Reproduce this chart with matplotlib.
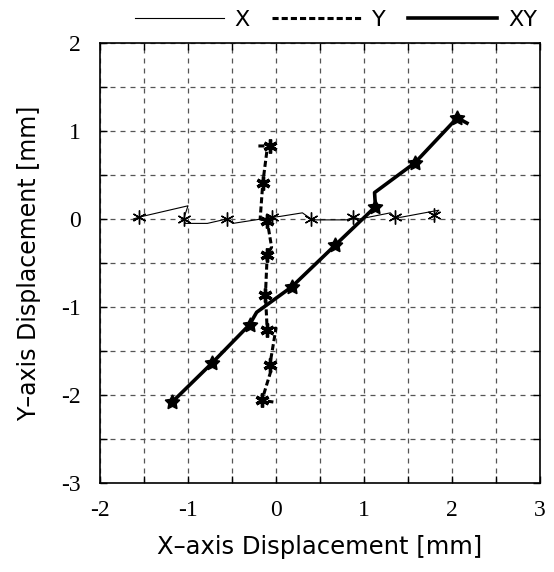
import matplotlib
matplotlib.use("Agg")
import matplotlib.pyplot as plt
from matplotlib.ticker import MultipleLocator
from matplotlib.lines import Line2D

plt.rcParams['axes.unicode_minus'] = False

# X series (thin line) path and hold-point indices
x_x = [-1.62, -1.56, -1.0, -1.05, -1.03, -0.78, -0.56, -0.49, -0.04, 0.05, 0.3, 0.40, 0.45, 0.8, 0.88, 0.95, 1.3, 1.35, 1.42, 1.85, 1.80]
x_y = [0.0, 0.02, 0.15, 0.0, -0.05, -0.05, 0.0, -0.05, 0.02, 0.03, 0.07, 0.0, -0.01, -0.01, 0.02, 0.0, 0.07, 0.02, 0.02, 0.10, 0.05]
x_hold = [1, 3, 6, 8, 11, 14, 17, 20]

# Y series (dashed line)
y_x = [-0.2, -0.07, -0.1, -0.15, -0.18, -0.1, -0.05, -0.1, -0.12, -0.1, 0.0, -0.07, -0.05, -0.16, -0.03]
y_y = [0.83, 0.83, 0.8, 0.41, 0.0, -0.02, -0.32, -0.41, -0.86, -1.26, -1.24, -1.66, -1.7, -2.06, -2.08]
y_hold = [1, 3, 5, 7, 8, 9, 11, 13]

# XY series (thick line)
xy_x = [-1.18, -0.73, -0.3, -0.22, 0.18, 0.67, 1.13, 1.12, 1.58, 2.06, 2.17]
xy_y = [-2.08, -1.64, -1.2, -1.06, -0.77, -0.3, 0.14, 0.3, 0.64, 1.15, 1.09]
xy_hold = [0, 1, 2, 4, 5, 6, 8, 9]

series_labels = ['X', 'Y', 'XY']
x_ticks = [-2, -1, 0, 1, 2, 3]
y_ticks = [-3, -2, -1, 0, 1, 2]

fig = plt.figure(figsize=(5.54, 5.72), dpi=100)
ax = fig.add_axes([100/554, 1-483/572, 440/554, 440/572])

ax.plot(x_x, x_y, color='black', lw=0.8, marker=(6, 2, 0), markersize=10,
        markeredgewidth=1.0, markevery=x_hold)
ax.plot(y_x, y_y, color='black', lw=2.2, ls=(0, (2, 1)), marker=(6, 2, 0),
        markersize=10, markeredgewidth=2.4, markevery=y_hold)
ax.plot(xy_x, xy_y, color='black', lw=2.6, marker=(5, 1, 0), markersize=11,
        markevery=xy_hold)

ax.set_xlim(-2, 3)
ax.set_ylim(-3, 2)
ax.set_xticks(x_ticks)
ax.set_yticks(y_ticks)
ax.set_xticklabels([str(v) for v in x_ticks])
ax.set_yticklabels([str(v) for v in y_ticks])
ax.xaxis.set_minor_locator(MultipleLocator(0.5))
ax.yaxis.set_minor_locator(MultipleLocator(0.5))
ax.grid(True, which='both', color='#555555', ls=(0, (4, 4)), lw=0.9)
ax.set_axisbelow(True)
ax.tick_params(which='both', direction='in', top=True, right=True, length=5, width=1)
for s in ax.spines.values():
    s.set_linewidth(1.2)

for lab in ax.get_xticklabels() + ax.get_yticklabels():
    lab.set_fontfamily('Liberation Serif')
    lab.set_fontsize(17)
ax.tick_params(axis='x', pad=12)
ax.tick_params(axis='y', pad=14)

ax.set_xlabel('X\u2013axis Displacement [mm]', fontsize=17.5, family='DejaVu Sans', labelpad=10)
ax.set_ylabel('Y\u2013axis Displacement [mm]', fontsize=17, family='DejaVu Sans', labelpad=14)

h1 = Line2D([], [], color='black', lw=0.8)
h2 = Line2D([], [], color='black', lw=2.2, ls=(0, (2, 1)))
h3 = Line2D([], [], color='black', lw=2.6)
fig.legend([h1, h2, h3], series_labels, loc='center', bbox_to_anchor=(336/554, 1-20/572),
           ncol=3, frameon=False, handlelength=4.0, columnspacing=1.0,
           handletextpad=0.5, borderpad=0.2, prop={'family': 'DejaVu Sans', 'size': 16})

fig.savefig('out.png', dpi=100)
